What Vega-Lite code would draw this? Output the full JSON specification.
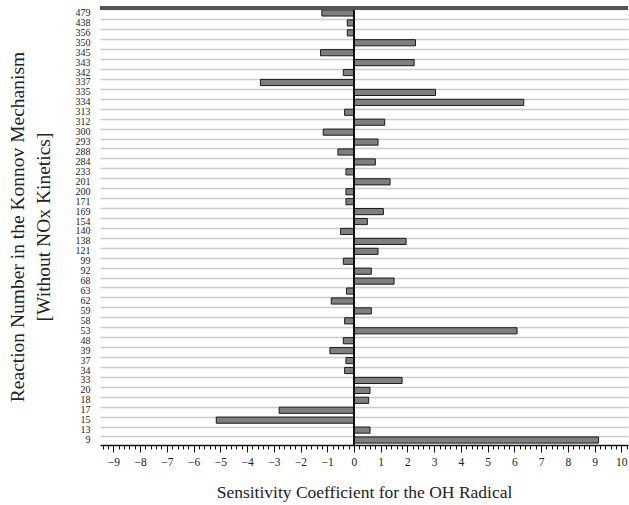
{
  "$schema": "https://vega.github.io/schema/vega-lite/v6.json",
  "width": 528,
  "height": 437,
  "autosize": {"type": "none"},
  "padding": {"left": 100, "top": 8, "right": 1, "bottom": 60},
  "background": "white",
  "config": {"view": {"stroke": null}},
  "data": {"values": [
    {"r": "479", "v": -1.2},
    {"r": "438", "v": -0.25},
    {"r": "356", "v": -0.25},
    {"r": "350", "v": 2.3},
    {"r": "345", "v": -1.25},
    {"r": "343", "v": 2.25},
    {"r": "342", "v": -0.4},
    {"r": "337", "v": -3.5},
    {"r": "335", "v": 3.05},
    {"r": "334", "v": 6.35},
    {"r": "313", "v": -0.35},
    {"r": "312", "v": 1.15},
    {"r": "300", "v": -1.15},
    {"r": "293", "v": 0.9},
    {"r": "288", "v": -0.6},
    {"r": "284", "v": 0.8},
    {"r": "233", "v": -0.3},
    {"r": "201", "v": 1.35},
    {"r": "200", "v": -0.3},
    {"r": "171", "v": -0.3},
    {"r": "169", "v": 1.1},
    {"r": "154", "v": 0.5},
    {"r": "140", "v": -0.5},
    {"r": "138", "v": 1.95},
    {"r": "121", "v": 0.9},
    {"r": "99", "v": -0.4},
    {"r": "92", "v": 0.65},
    {"r": "68", "v": 1.5},
    {"r": "63", "v": -0.28},
    {"r": "62", "v": -0.85},
    {"r": "59", "v": 0.65},
    {"r": "58", "v": -0.35},
    {"r": "53", "v": 6.1},
    {"r": "48", "v": -0.4},
    {"r": "39", "v": -0.9},
    {"r": "37", "v": -0.3},
    {"r": "34", "v": -0.35},
    {"r": "33", "v": 1.8},
    {"r": "20", "v": 0.6},
    {"r": "18", "v": 0.55},
    {"r": "17", "v": -2.8},
    {"r": "15", "v": -5.15},
    {"r": "13", "v": 0.6},
    {"r": "9", "v": 9.15}
  ]},
  "encoding": {
    "y": {
      "field": "r", "type": "nominal", "sort": null,
      "scale": {"paddingInner": 0.38, "paddingOuter": 0.19},
      "axis": {
        "title": ["Reaction Number in the Konnov Mechanism", "[Without NOx Kinetics]"],
        "titleFont": "Liberation Serif", "titleFontSize": 19.5, "titleFontWeight": "normal",
        "titleColor": "#222", "titleLineHeight": 26, "titlePadding": 22,
        "labelFont": "Liberation Serif", "labelFontSize": 10, "labelColor": "#222",
        "labelPadding": 10, "ticks": false, "domain": false, "grid": false
      }
    }
  },
  "layer": [
    {
      "mark": {"type": "bar", "fill": "#7f7f7f", "stroke": "#1a1a1a", "strokeWidth": 1},
      "encoding": {
        "x": {
          "field": "v", "type": "quantitative",
          "scale": {"domain": [-9.5, 10.25], "nice": false, "zero": false},
          "axis": {
            "title": "Sensitivity Coefficient for the OH Radical",
            "titleFont": "Liberation Serif", "titleFontSize": 17.5, "titleFontWeight": "normal",
            "titleColor": "#222", "titlePadding": 16,
            "labelFont": "Liberation Serif", "labelFontSize": 11.5, "labelColor": "#222",
            "labelOverlap": false, "labelPadding": 4, "tickCount": 500,
            "labelExpr": "abs(datum.value - round(datum.value)) < 0.01 ? format(round(datum.value), 'd') : ''",
            "values": [-9.4,-9.2,-9,-8.8,-8.6,-8.4,-8.2,-8,-7.8,-7.6,-7.4,-7.2,-7,-6.8,-6.6,-6.4,-6.2,-6,-5.8,-5.6,-5.4,-5.2,-5,-4.8,-4.6,-4.4,-4.2,-4,-3.8,-3.6,-3.4,-3.2,-3,-2.8,-2.6,-2.4,-2.2,-2,-1.8,-1.6,-1.4,-1.2,-1,-0.8,-0.6,-0.4,-0.2,0,0.2,0.4,0.6,0.8,1,1.2,1.4,1.6,1.8,2,2.2,2.4,2.6,2.8,3,3.2,3.4,3.6,3.8,4,4.2,4.4,4.6,4.8,5,5.2,5.4,5.6,5.8,6,6.2,6.4,6.6,6.8,7,7.2,7.4,7.6,7.8,8,8.2,8.4,8.6,8.8,9,9.2,9.4,9.6,9.8,10,10.2],
            "tickSize": {"condition": {"test": "abs(datum.value - round(datum.value)) < 0.01", "value": 7}, "value": 4},
            "tickColor": "#111", "domainColor": "#111", "domainWidth": 1.5, "grid": false
          }
        }
      }
    },
    {
      "mark": {"type": "rule", "color": "#111", "strokeWidth": 1.5},
      "encoding": {
        "x": {"datum": 0, "type": "quantitative"},
        "y": {"value": 0},
        "y2": {"value": 437}
      }
    },
    {
      "mark": {"type": "rule", "color": "#555", "strokeWidth": 2.5},
      "encoding": {
        "y": {"value": 0},
        "x": {"value": 0},
        "x2": {"value": 528}
      }
    },
    {
      "mark": {"type": "tick", "opacity": 0},
      "encoding": {
        "y": {
          "field": "r", "type": "nominal", "sort": null,
          "axis": {"orient": "right", "labels": false, "ticks": false, "domain": false, "title": null,
                   "grid": true, "bandPosition": 0, "gridColor": "#cccccc", "gridWidth": 1.5}
        }
      }
    }
  ],
  "resolve": {"axis": {"y": "independent"}}
}
